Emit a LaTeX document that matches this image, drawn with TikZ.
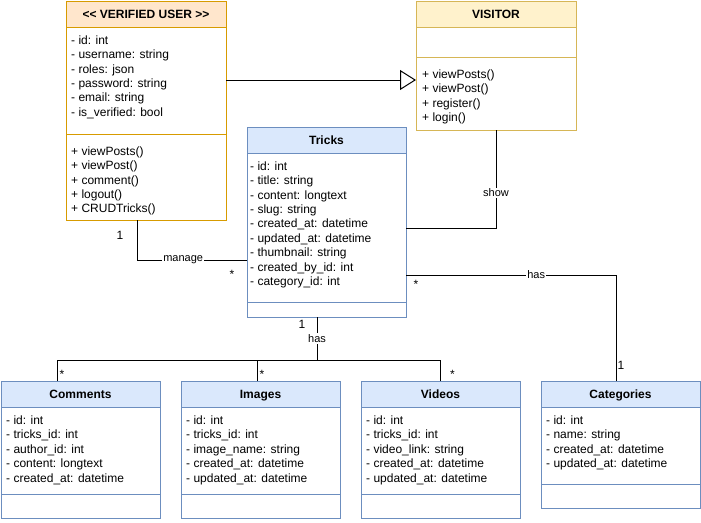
\documentclass[tikz,border=0pt]{standalone}
\usepackage{fontspec}
\setmainfont{Liberation Sans}
\usetikzlibrary{arrows.meta}
\definecolor{userFill}{HTML}{FFE6CC}
\definecolor{userLine}{HTML}{D79B00}
\definecolor{visitorFill}{HTML}{FFF2CC}
\definecolor{visitorLine}{HTML}{D6B656}
\definecolor{entityFill}{HTML}{DAE8FC}
\definecolor{entityLine}{HTML}{6C8EBF}
\tikzstyle{classbox} = [rectangle, anchor = north west, outer sep = 0, inner sep = 0, line width = 1, minimum width = 160]
\tikzstyle{classTitle} = [classbox, minimum height = 26, text height = 8.6, text depth = 0, font = \fontsize{12}{14.4}\selectfont\bfseries]
\tikzstyle{members} = [anchor = north west, inner sep = 0, align = left, font = \fontsize{12}{14.4}\selectfont]
\tikzstyle{link} = [line width = 1, draw = black]
\tikzstyle{linkText} = [fill = white, inner sep = 1, font = \fontsize{11}{13}\selectfont]
\tikzstyle{mult} = [inner sep = 0, font = \fontsize{12}{14}\selectfont]

\begin{document}
\begin{tikzpicture}[x = 1pt, y = -1pt]
\useasboundingbox (0,0) rectangle (701,522);

% verified user
\node (vu) [classbox, draw = userLine, minimum height = 219] at (66,1) {};
\node (vuTitle) [classTitle, draw = userLine, fill = userFill] at (vu.north west) {<\kern0pt< VERIFIED USER >\kern0pt>};
\draw [userLine, line width = 1] ([yshift = -133]vu.north west) -- ([yshift = -133]vu.north east);
\node [members] at ([xshift = 5, yshift = -34.5]vu.north west) {- id: int\\- username: string\\- roles: json\\- password: string\\- email: string\\- is\_verified: bool};
\node [members] at ([xshift = 5, yshift = -145.5]vu.north west) {+ viewPosts()\\+ viewPost()\\+ comment()\\+ logout()\\+ CRUDTricks()};

% visitor
\node (vis) [classbox, draw = visitorLine, minimum height = 129] at (416,1) {};
\node (visTitle) [classTitle, draw = visitorLine, fill = visitorFill] at (vis.north west) {VISITOR};
\draw [visitorLine, line width = 1] ([yshift = -56]vis.north west) -- ([yshift = -56]vis.north east);
\node [members] at ([xshift = 6, yshift = -68.5]vis.north west) {+ viewPosts()\\+ viewPost()\\+ register()\\+ login()};

% tricks
\node (tricks) [classbox, draw = entityLine, minimum width = 159, minimum height = 190] at (247,127) {};
\node (tricksTitle) [classTitle, draw = entityLine, fill = entityFill, minimum width = 159] at (tricks.north west) {Tricks};
\draw [entityLine, line width = 1] ([yshift = -175]tricks.north west) -- ([yshift = -175]tricks.north east);
\node [members] at ([xshift = 3, yshift = -34.5]tricks.north west) {- id: int\\- title: string\\- content: longtext\\- slug: string\\- created\_at: datetime\\- updated\_at: datetime\\- thumbnail: string\\- created\_by\_id: int\\- category\_id: int};

% comments
\node (com) [classbox, draw = entityLine, minimum width = 159, minimum height = 137] at (1,381) {};
\node (comTitle) [classTitle, draw = entityLine, fill = entityFill, minimum width = 159] at (com.north west) {Comments};
\draw [entityLine, line width = 1] ([yshift = -113]com.north west) -- ([yshift = -113]com.north east);
\node [members] at ([xshift = 5, yshift = -34.5]com.north west) {- id: int\\- tricks\_id: int\\- author\_id: int\\- content: longtext\\- created\_at: datetime};

% images
\node (img) [classbox, draw = entityLine, minimum width = 159, minimum height = 137] at (181,381) {};
\node (imgTitle) [classTitle, draw = entityLine, fill = entityFill, minimum width = 159] at (img.north west) {Images};
\draw [entityLine, line width = 1] ([yshift = -113]img.north west) -- ([yshift = -113]img.north east);
\node [members] at ([xshift = 5, yshift = -34.5]img.north west) {- id: int\\- tricks\_id: int\\- image\_name: string\\- created\_at: datetime\\- updated\_at: datetime};

% videos
\node (vid) [classbox, draw = entityLine, minimum width = 159, minimum height = 137] at (361,381) {};
\node (vidTitle) [classTitle, draw = entityLine, fill = entityFill, minimum width = 159] at (vid.north west) {Videos};
\draw [entityLine, line width = 1] ([yshift = -113]vid.north west) -- ([yshift = -113]vid.north east);
\node [members] at ([xshift = 5, yshift = -34.5]vid.north west) {- id: int\\- tricks\_id: int\\- video\_link: string\\- created\_at: datetime\\- updated\_at: datetime};

% categories
\node (cat) [classbox, draw = entityLine, minimum width = 159, minimum height = 127] at (541,381) {};
\node (catTitle) [classTitle, draw = entityLine, fill = entityFill, minimum width = 159] at (cat.north west) {Categories};
\draw [entityLine, line width = 1] ([yshift = -103]cat.north west) -- ([yshift = -103]cat.north east);
\node [members] at ([xshift = 5, yshift = -34.5]cat.north west) {- id: int\\- name: string\\- created\_at: datetime\\- updated\_at: datetime};

% links
\draw [link, -{Triangle[open, length = 16, width = 20]}] ([yshift = -79]vu.north east) -- ([yshift = -79]vis.north west);
\draw [link] (vis.south) |- node [linkText, pos = 0.32] {show} ([yshift = -101]tricks.north east);
\draw [link] ([xshift = -9]vu.south) |- node [linkText, pos = 0.71] {manage} node [mult, pos = 0, xshift = -17, yshift = -15] {1} node [mult, pos = 1, xshift = -15, yshift = -14.5] {*} ([yshift = -133]tricks.north west);
\draw [link] ([yshift = -148]tricks.north east) -| node [linkText, pos = 0.31] {has} node [mult, pos = 0, xshift = 10, yshift = -9.5] {*} node [mult, pos = 1, xshift = 5, yshift = 16] {1} ([xshift = -4.5]cat.north);

\coordinate (hub) at (317,360);
\draw [link] ([xshift = -9.5]tricks.south) -- node [linkText] {has} node [mult, pos = 0, xshift = -15, yshift = -7.5] {1} (hub) -| node [mult, pos = 1, xshift = 5, yshift = 6.5] {*} ([xshift = -23.5]com.north);
\draw [link] (hub) -| node [mult, pos = 1, xshift = 5, yshift = 6.5] {*} ([xshift = -3.5]img.north);
\draw [link] (hub) -| node [mult, pos = 1, xshift = 12, yshift = 6.5] {*} (vid.north);
\end{tikzpicture}
\end{document}
